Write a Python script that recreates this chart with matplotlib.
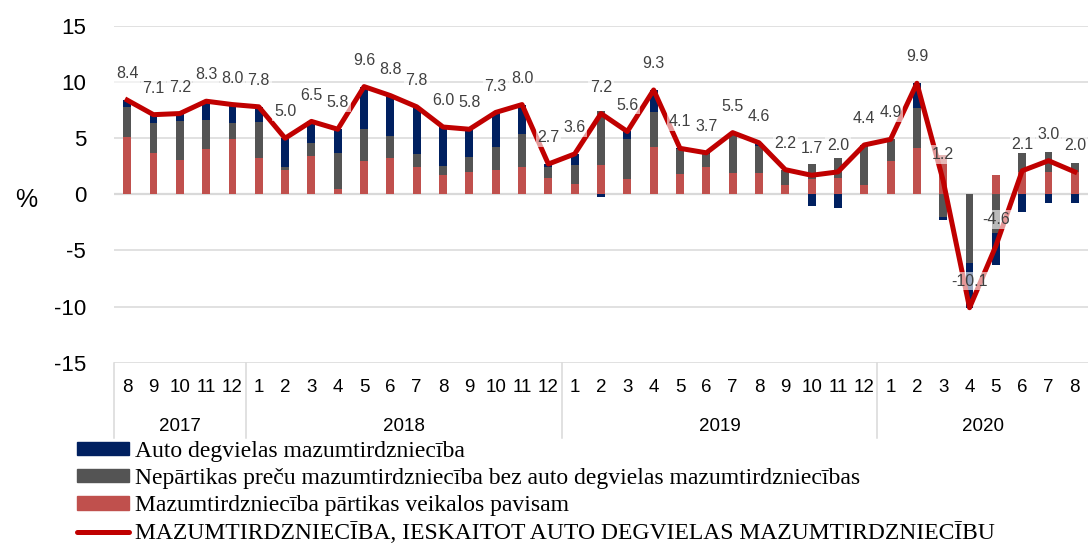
import matplotlib.pyplot as plt
from matplotlib.patches import Patch
from matplotlib.lines import Line2D
import numpy as np

plt.rcParams['font.family'] = ['Liberation Sans', 'DejaVu Sans']
plt.rcParams['axes.unicode_minus'] = False

months = [8, 9, 10, 11, 12] + list(range(1, 13)) + list(range(1, 13)) + list(range(1, 9))
years = ["2017", "2018", "2019", "2020"]
year_sizes = [5, 12, 12, 8]

total = [8.4, 7.1, 7.2, 8.3, 8.0,
         7.8, 5.0, 6.5, 5.8, 9.6, 8.8, 7.8, 6.0, 5.8, 7.3, 8.0, 2.7,
         3.6, 7.2, 5.6, 9.3, 4.1, 3.7, 5.5, 4.6, 2.2, 1.7, 2.0, 4.4,
         4.9, 9.9, 1.2, -10.1, -4.6, 2.1, 3.0, 2.0]

food = [5.1, 3.7, 3.1, 4.0, 4.9,
        3.25, 2.2, 3.4, 0.5, 3.0, 3.2, 2.4, 1.7, 2.0, 2.2, 2.4, 1.5,
        0.9, 2.6, 1.4, 4.25, 1.8, 2.4, 1.9, 1.9, 0.85, 1.4, 1.5, 0.85,
        3.0, 4.1, 3.5, 0.0, 1.7, 2.0, 1.95, 2.0]

nonfood = [2.7, 2.7, 3.4, 2.6, 1.5,
           3.2, 0.25, 1.2, 3.2, 2.8, 2.0, 1.2, 0.85, 1.35, 2.0, 2.95, 0.9,
           1.75, 4.85, 3.5, 3.05, 2.2, 1.2, 3.4, 2.4, 1.35, 1.3, 1.7, 3.35,
           1.9, 3.6, -2.0, -6.1, -3.4, 1.7, 1.8, 0.75]

fuel = [0.6, 0.7, 0.7, 1.7, 1.6,
        1.35, 2.55, 1.9, 2.1, 3.8, 3.6, 4.2, 3.45, 2.45, 3.1, 2.65, 0.3,
        0.95, -0.25, 0.7, 2.0, 0.1, 0.1, 0.2, 0.3, 0.0, -1.0, -1.2, 0.2,
        0.0, 2.2, -0.3, -4.0, -2.9, -1.6, -0.75, -0.75]

labels = ["Auto degvielas mazumtirdzniecība",
          "Nepārtikas preču mazumtirdzniecība bez auto degvielas mazumtirdzniecības",
          "Mazumtirdzniecība pārtikas veikalos pavisam",
          "MAZUMTIRDZNIECĪBA, IESKAITOT AUTO DEGVIELAS MAZUMTIRDZNIECĪBU"]

c_fuel = "#002060"
c_nonfood = "#545454"
c_food = "#C0504D"
c_line = "#C00000"

fig = plt.figure(figsize=(10.91, 5.43), dpi=100)
ax = fig.add_axes([114 / 1091, 1 - 362.7 / 543, 974 / 1091, 336.7 / 543])

x = np.arange(len(total))
pos_base = np.zeros(len(x))
neg_base = np.zeros(len(x))
for vals, col in [(food, c_food), (nonfood, c_nonfood), (fuel, c_fuel)]:
    v = np.array(vals)
    base = np.where(v >= 0, pos_base, neg_base)
    ax.bar(x, v, 0.3, bottom=base, color=col, zorder=2)
    pos_base = pos_base + np.where(v >= 0, v, 0)
    neg_base = neg_base + np.where(v < 0, v, 0)

ax.plot(x, total, color=c_line, lw=3.6, solid_joinstyle='round', zorder=3)

for xi, t in zip(x, total):
    ax.annotate(f"{t:.1f}", (xi, t), xytext=(0, 19), textcoords='offset points',
                ha='center', va='center', fontsize=11.5, color='#404040', zorder=4,
                bbox=dict(boxstyle='square,pad=0.1', fc='white', ec='none', alpha=0.6))

ax.set_ylim(-15, 15)
ax.set_xlim(-0.5, 36.5)
ax.set_yticks(range(-15, 16, 5))
ax.tick_params(axis='y', length=0, pad=20, labelsize=16)
ax.set_xticks([])
for s in ax.spines.values():
    s.set_visible(False)
for yv in range(-15, 16, 5):
    ax.axhline(yv, color='#D9D9D9', lw=1.6 if yv == 0 else 1.1, zorder=1)

tr = ax.get_xaxis_transform()
for xi, m in zip(x, months):
    ax.text(xi, -0.075, str(m), transform=tr, ha='center', va='center', fontsize=13.5)

start = 0
for yr, n in zip(years, year_sizes):
    ax.plot([start - 0.5, start - 0.5], [0, -0.225], transform=tr, color='#D9D9D9',
            lw=1.1, clip_on=False)
    ax.text(start + (n - 1) / 2, -0.19, yr, transform=tr, ha='center', va='center',
            fontsize=13.5)
    start += n

fig.text(26 / 1091, 1 - 200 / 543, "%", fontsize=18, ha='center', va='center')

handles = [Patch(color=c_fuel), Patch(color=c_nonfood), Patch(color=c_food),
           Line2D([], [], color=c_line, lw=3.6, solid_capstyle='round')]
fig.legend(handles, labels, loc='upper left', bbox_to_anchor=(77 / 1091, 1 - 441 / 543),
           frameon=False, borderpad=0, borderaxespad=0, handlelength=2.2,
           handleheight=0.5, handletextpad=0.25, labelspacing=0.26,
           prop={'family': 'Liberation Serif', 'size': 17})

fig.savefig("out.png", dpi=100)
